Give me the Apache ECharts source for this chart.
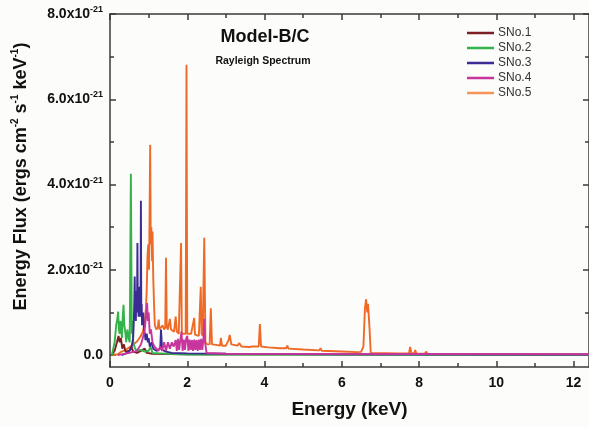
<!DOCTYPE html>
<html>
<head>
<meta charset="utf-8">
<script src="https://cdn.jsdelivr.net/npm/echarts@6/dist/echarts.min.js"></script>
<style>
html,body{margin:0;padding:0;background:#fcfcfa;}
#chart{width:589px;height:427px;}
</style>
</head>
<body>
<div id="chart"></div>
<script>
// Energy (keV) / Energy flux (x1e-21 ergs cm^-2 s^-1 keV^-1)
var seriesNames = ['SNo.1', 'SNo.2', 'SNo.3', 'SNo.4', 'SNo.5'];
var xTickLabels = [0, 2, 4, 6, 8, 10, 12];
var yTickLabels = [0, 2, 4, 6, 8];

var s1x = [0.05, 0.12, 0.18, 0.22, 0.25, 0.28, 0.32, 0.36, 0.40, 0.50, 0.55, 0.60, 0.70, 0.80, 0.90, 0.95, 1.10, 2.00, 12.4];
var s1y = [0.00, 0.10, 0.30, 0.45, 0.30, 0.40, 0.15, 0.25, 0.08, 0.10, 0.20, 0.08, 0.05, 0.10, 0.15, 0.05, 0.03, 0.02, 0.01];

var s2x = [0.05, 0.12, 0.16, 0.19, 0.21, 0.23, 0.25, 0.27, 0.29, 0.31, 0.33, 0.35, 0.37, 0.40, 0.42, 0.45, 0.48, 0.51, 0.54, 0.565, 0.58, 0.60, 0.65, 0.70, 0.80, 0.90, 1.00, 1.05, 1.10, 1.30, 1.50, 2.00, 12.4];
var s2y = [0.00, 0.30, 0.70, 0.85, 1.02, 0.60, 0.50, 0.80, 0.60, 0.40, 0.90, 1.18, 0.70, 0.50, 0.30, 0.60, 0.40, 0.30, 4.25, 0.50, 0.80, 0.30, 0.15, 0.10, 0.12, 0.08, 0.10, 0.20, 0.05, 0.04, 0.03, 0.01, 0.00];

var s3x = [0.30, 0.45, 0.55, 0.60, 0.62, 0.63, 0.64, 0.65, 0.66, 0.67, 0.68, 0.69, 0.70, 0.71, 0.72, 0.73, 0.74, 0.75, 0.76, 0.77, 0.78, 0.79, 0.80, 0.81, 0.82, 0.83, 0.84, 0.86, 0.88, 0.90, 0.92, 0.95, 0.98, 1.00, 1.03, 1.08, 1.12, 1.20, 1.30, 1.32, 1.35, 1.45, 1.60, 2.00, 3.00, 6.00, 12.4];
var s3y = [0.00, 0.05, 0.15, 0.40, 0.90, 1.30, 1.84, 0.90, 1.20, 0.80, 1.50, 1.00, 1.10, 2.63, 1.00, 1.30, 0.90, 1.60, 1.00, 1.20, 1.40, 0.90, 3.62, 1.00, 1.20, 0.70, 0.80, 1.00, 0.60, 0.50, 0.35, 0.50, 0.30, 0.40, 0.20, 0.30, 0.15, 0.10, 0.15, 0.60, 0.12, 0.08, 0.05, 0.04, 0.03, 0.02, 0.01];

var s4x = [0.20, 0.50, 0.70, 0.80, 0.85, 0.90, 0.93, 0.96, 0.98, 1.00, 1.03, 1.06, 1.10, 1.15, 1.20, 1.25, 1.30, 1.35, 1.40, 1.45, 1.50, 1.55, 1.60, 1.65, 1.70, 1.73, 1.76, 1.79, 1.82, 1.85, 1.88, 1.91, 1.94, 1.97, 2.00, 2.03, 2.06, 2.09, 2.12, 2.15, 2.18, 2.21, 2.24, 2.27, 2.30, 2.33, 2.36, 2.39, 2.42, 2.44, 2.46, 2.50, 3.00, 12.4];
var s4y = [0.00, 0.05, 0.10, 0.25, 0.40, 0.60, 0.90, 1.22, 0.80, 1.00, 0.50, 0.60, 0.30, 0.20, 0.15, 0.10, 0.20, 0.10, 0.30, 0.10, 0.30, 0.15, 0.30, 0.20, 0.35, 0.10, 0.38, 0.12, 0.35, 0.55, 0.10, 0.36, 0.12, 0.38, 0.45, 0.10, 0.36, 0.12, 0.35, 0.10, 0.36, 0.12, 0.35, 0.10, 0.36, 0.12, 0.38, 0.12, 0.40, 0.85, 0.30, 0.05, 0.03, 0.02];

var s5x = [0.05, 0.20, 0.30, 0.40, 0.50, 0.60, 0.70, 0.80, 0.85, 0.90, 0.93, 0.95, 0.97, 0.99, 1.01, 1.02, 1.04, 1.055, 1.07, 1.09, 1.10, 1.12, 1.14, 1.16, 1.20, 1.24, 1.26, 1.28, 1.32, 1.36, 1.40, 1.43, 1.45, 1.47, 1.50, 1.55, 1.58, 1.62, 1.66, 1.70, 1.73, 1.78, 1.82, 1.84, 1.86, 1.90, 1.96, 1.98, 2.00, 2.05, 2.10, 2.15, 2.18, 2.20, 2.25, 2.30, 2.35, 2.37, 2.40, 2.44, 2.47, 2.52, 2.58, 2.61, 2.64, 2.75, 2.85, 2.87, 2.90, 3.00, 3.07, 3.10, 3.14, 3.30, 3.35, 3.40, 3.60, 3.70, 3.85, 3.88, 3.91, 4.10, 4.40, 4.56, 4.59, 4.62, 5.00, 5.42, 5.45, 5.48, 6.00, 6.40, 6.50, 6.56, 6.60, 6.63, 6.66, 6.68, 6.72, 6.75, 6.80, 7.50, 7.74, 7.77, 7.80, 7.88, 7.90, 7.93, 8.15, 8.18, 8.22, 9.00, 10.0, 12.4];
var s5y = [0.00, 0.02, 0.08, 0.12, 0.18, 0.25, 0.32, 0.45, 0.55, 0.75, 1.10, 1.50, 2.30, 2.60, 2.00, 2.80, 4.93, 2.60, 3.00, 2.20, 2.90, 1.80, 1.20, 0.70, 0.60, 0.65, 0.83, 0.60, 0.62, 0.70, 0.60, 0.65, 2.28, 0.65, 0.60, 0.85, 0.60, 0.60, 0.55, 0.90, 0.55, 0.50, 0.50, 2.63, 0.50, 0.48, 0.50, 6.81, 0.50, 0.48, 0.50, 0.50, 0.87, 0.48, 0.46, 0.45, 1.60, 0.50, 0.45, 2.75, 0.30, 0.25, 0.25, 1.10, 0.25, 0.24, 0.22, 0.40, 0.22, 0.22, 0.35, 0.47, 0.25, 0.22, 0.28, 0.20, 0.19, 0.20, 0.20, 0.73, 0.20, 0.18, 0.16, 0.16, 0.22, 0.15, 0.13, 0.11, 0.16, 0.10, 0.085, 0.07, 0.075, 0.20, 1.10, 1.31, 1.00, 1.20, 0.60, 0.05, 0.04, 0.035, 0.04, 0.19, 0.05, 0.04, 0.12, 0.04, 0.03, 0.08, 0.03, 0.025, 0.02, 0.015];

var colors = ['#7b1f24', '#34b34a', '#3b2b94', '#c8359c', '#ef6a26'];
var legendColors = ['#7b1f24', '#34b34a', '#3b2b94', '#c8359c', '#f3955a'];

function pairs(xs, ys) { return xs.map(function (x, i) { return [x, ys[i]]; }); }
var dataSets = [pairs(s1x, s1y), pairs(s2x, s2y), pairs(s3x, s3y), pairs(s4x, s4y), pairs(s5x, s5y)];

var FONT = '"Liberation Sans", Arial, sans-serif';
var axisColor = '#3a3a3a';

var chart = echarts.init(document.getElementById('chart'), null, {renderer: 'canvas'});

var drawOrder = [4, 0, 1, 2, 3];
var series = drawOrder.map(function (i) {
  return {
    name: seriesNames[i],
    type: 'line',
    data: dataSets[i],
    showSymbol: false,
    symbol: 'none',
    xAxisIndex: 0,
    yAxisIndex: 0,
    lineStyle: {width: 1.9, color: colors[i]},
    itemStyle: {color: legendColors[i]},
    z: 2 + drawOrder.indexOf(i),
    animation: false
  };
});

var yMajor = yTickLabels;
var yMinor = [1, 3, 5, 7];
var xMajor = xTickLabels;
var xMinor = [1, 3, 5, 7, 9, 11];

function yAxisCfg(pos, ticks, len, showLine, showLabel, extra) {
  var c = {
    type: 'value', position: pos, min: -0.28, max: 8,
    axisLine: {show: showLine, onZero: false, lineStyle: {color: axisColor, width: 1.5}},
    axisTick: {show: true, inside: true, length: len, customValues: ticks, lineStyle: {color: axisColor, width: 1.5}},
    axisLabel: {show: false},
    splitLine: {show: false}
  };
  return Object.assign(c, extra || {});
}
function xAxisCfg(pos, ticks, len, showLine, extra) {
  var c = {
    type: 'value', position: pos, min: 0, max: 12.4,
    axisLine: {show: showLine, onZero: false, lineStyle: {color: axisColor, width: 1.5}},
    axisTick: {show: true, inside: true, length: len, customValues: ticks, lineStyle: {color: axisColor, width: 1.5}},
    axisLabel: {show: false},
    splitLine: {show: false}
  };
  return Object.assign(c, extra || {});
}

var option = {
  backgroundColor: '#fcfcfa',
  animation: false,
  textStyle: {fontFamily: FONT},
  grid: {left: 110, top: 14, right: -2, bottom: 60, containLabel: false},
  legend: {
    data: seriesNames.map(function (n, i) { return {name: n, itemStyle: {color: legendColors[i]}}; }),
    orient: 'vertical',
    left: 467, top: 26, padding: 0,
    icon: 'rect',
    itemWidth: 27, itemHeight: 2.5, itemGap: 1,
    textStyle: {fontFamily: FONT, fontSize: 12, color: '#333', lineHeight: 14, padding: [0, 0, 0, -1]},
    selectedMode: false
  },
  xAxis: [
    xAxisCfg('bottom', xMajor, 6, true, {
      name: 'Energy (keV)', nameLocation: 'middle', nameGap: 33,
      nameTextStyle: {fontFamily: FONT, fontSize: 19, fontWeight: 'bold', color: '#111', padding: [0, 0, 0, 0]},
      axisLabel: {show: true, customValues: xTickLabels, margin: 9, fontFamily: FONT, fontSize: 14, fontWeight: 'bold', color: '#111'}
    }),
    xAxisCfg('bottom', xMinor, 4, false),
    xAxisCfg('top', xMajor, 6, true),
    xAxisCfg('top', xMinor, 4, false)
  ],
  yAxis: [
    yAxisCfg('left', yMajor, 6, true, true, {
      name: '{t|Energy Flux (ergs cm}{s|-2}{t| s}{s|-1}{t| keV}{s|-1}{t|)}',
      nameLocation: 'middle', nameGap: 78,
      nameTextStyle: {
        padding: [0, 0, 0, 28],
        rich: {
          t: {fontFamily: FONT, fontSize: 18, fontWeight: 'bold', color: '#111', lineHeight: 22},
          s: {fontFamily: FONT, fontSize: 10, fontWeight: 'bold', color: '#111', lineHeight: 10, verticalAlign: 'top'}
        }
      },
      axisLabel: {
        show: true, customValues: yTickLabels, margin: 7,
        formatter: function (v) {
          if (v === 0) return '{a|0.0}';
          return '{a|' + v.toFixed(1) + 'x10}{b|-21}';
        },
        rich: {
          a: {fontFamily: FONT, fontSize: 14, fontWeight: 'bold', color: '#111', lineHeight: 18},
          b: {fontFamily: FONT, fontSize: 9, fontWeight: 'bold', color: '#111', lineHeight: 9, verticalAlign: 'top'}
        }
      }
    }),
    yAxisCfg('left', yMinor, 4, false, false),
    yAxisCfg('right', yMajor, 6, true, false),
    yAxisCfg('right', yMinor, 4, false, false)
  ],
  graphic: [
    {type: 'text', x: 265, y: 37, z: 100, style: {text: 'Model-B/C', textAlign: 'center', textVerticalAlign: 'middle', font: 'bold 18px ' + FONT, fill: '#111'}},
    {type: 'text', x: 263, y: 61, z: 100, style: {text: 'Rayleigh Spectrum', textAlign: 'center', textVerticalAlign: 'middle', font: 'bold 10.5px ' + FONT, fill: '#111'}}
  ],
  series: series
};
chart.setOption(option);
</script>
</body>
</html>
